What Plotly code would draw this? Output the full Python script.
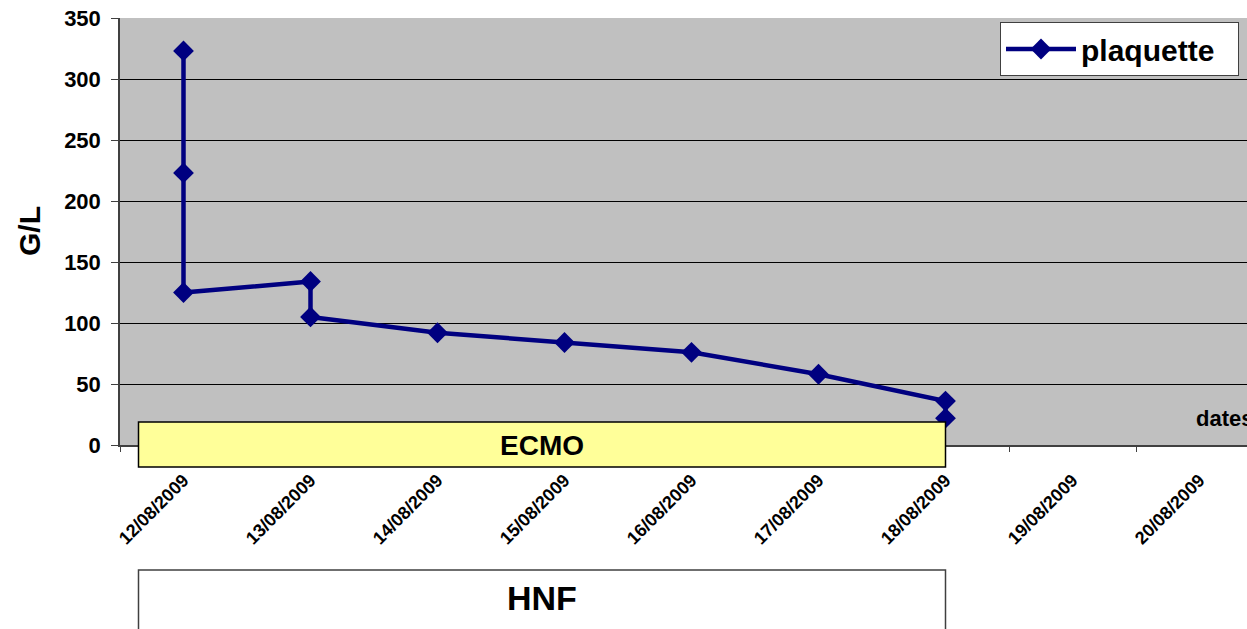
import plotly.graph_objects as go

# ---- data ----
date_categories = ["12/08/2009", "13/08/2009", "14/08/2009", "15/08/2009", "16/08/2009",
                   "17/08/2009", "18/08/2009", "19/08/2009", "20/08/2009"]
sample_dates = ["12/08/2009", "12/08/2009", "12/08/2009", "13/08/2009", "13/08/2009",
                "14/08/2009", "15/08/2009", "16/08/2009", "17/08/2009",
                "18/08/2009", "18/08/2009"]
platelets = [323, 223, 125, 134, 105, 92, 84, 76, 58, 36, 22]
series_name = "plaquette"
y_ticks = [0, 50, 100, 150, 200, 250, 300, 350]

FONT = "Liberation Sans, Arial, sans-serif"
NAVY = "#000080"

W, H = 1247, 629
L, T, B = 120, 18, 184
plot_w = W - L
plot_h = H - T - B
cat_px = 127.0


def py(pix):
    return (H - B - pix) / plot_h


fig = go.Figure()
fig.add_trace(go.Scatter(
    x=sample_dates, y=platelets, name=series_name, mode="lines+markers",
    line=dict(color=NAVY, width=4.5),
    marker=dict(symbol="diamond", size=16, color=NAVY),
))

ecmo_end = date_categories.index("18/08/2009")
ecmo_start = -45 / cat_px

shapes = [
    dict(type="rect", xref="x", yref="paper", x0=ecmo_start, x1=ecmo_end,
         y0=py(467), y1=py(422), fillcolor="#FFFF99",
         line=dict(color="#000000", width=1.5), layer="above"),
    dict(type="rect", xref="x", yref="paper", x0=ecmo_start, x1=ecmo_end,
         y0=-0.6, y1=py(570), fillcolor="#FFFFFF",
         line=dict(color="#404040", width=1.5), layer="above"),
]

annotations = [
    dict(text="ECMO", xref="x", yref="paper", x=(ecmo_start + ecmo_end) / 2, y=py(445),
         showarrow=False, font=dict(family=FONT, size=28, color="black", weight="bold"),
         xanchor="center", yanchor="middle"),
    dict(text="HNF", xref="x", yref="paper", x=(ecmo_start + ecmo_end) / 2, y=py(598),
         showarrow=False, font=dict(family=FONT, size=34, color="black", weight="bold"),
         xanchor="center", yanchor="middle"),
    dict(text="G/L", xref="paper", yref="paper", x=(29 - L) / plot_w, y=py(231),
         showarrow=False, textangle=-90,
         font=dict(family=FONT, size=30, color="black", weight="bold"),
         xanchor="center", yanchor="middle"),
    dict(text="dates", xref="paper", yref="paper", x=(1194 - L) / plot_w, y=py(418),
         showarrow=False, font=dict(family=FONT, size=22, color="black", weight="bold"),
         xanchor="left", yanchor="middle"),
]

n_cat = len(date_categories)
x_right = n_cat - 0.5 - (L + n_cat * cat_px - W) / cat_px

fig.update_layout(
    width=W, height=H,
    margin=dict(l=L, r=0, t=T, b=B, pad=0),
    paper_bgcolor="white", plot_bgcolor="#C0C0C0",
    showlegend=True,
    legend=dict(x=(1000 - L) / plot_w, y=py(22), xanchor="left", yanchor="top",
                orientation="h",
                bgcolor="white", bordercolor="#404040", borderwidth=1,
                font=dict(family=FONT, size=30, color="black", weight="bold"),
                itemwidth=70, entrywidth=152, entrywidthmode="pixels",
                tracegroupgap=0),
    shapes=shapes, annotations=annotations,
    xaxis=dict(type="category", categoryorder="array", categoryarray=date_categories,
               range=[-0.5, x_right], tickson="boundaries", ticks="outside", ticklen=5,
               tickcolor="#404040", tickangle=-45, showgrid=False,
               showline=True, linecolor="#404040", linewidth=1.5,
               tickfont=dict(family=FONT, size=18, color="black", weight="bold"),
               ticklabelstandoff=16, fixedrange=True),
    yaxis=dict(range=[0, 350], tickvals=y_ticks, ticks="outside", ticklen=7,
               tickcolor="#404040", showgrid=True, gridcolor="#000000", gridwidth=1,
               showline=True, linecolor="#404040", linewidth=1.5, zeroline=False,
               tickfont=dict(family=FONT, size=22, color="black", weight="bold"),
               ticklabelstandoff=6, fixedrange=True),
    font=dict(family=FONT),
)

fig.write_html("out.html")
